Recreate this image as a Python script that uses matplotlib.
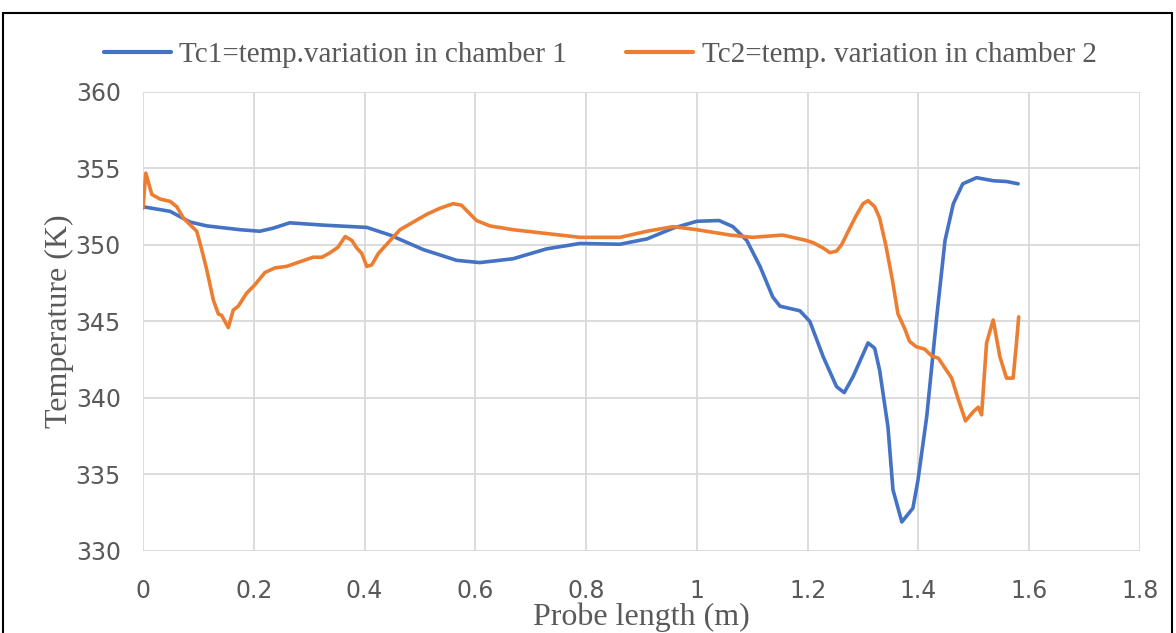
import matplotlib
matplotlib.use("Agg")
import matplotlib.pyplot as plt
from matplotlib.patches import Rectangle

# Tc1 (chamber 1)
x1 = [0.0, 0.049, 0.085, 0.115, 0.175, 0.211, 0.235, 0.265, 0.325, 0.404, 0.446, 0.506, 0.566,
      0.608, 0.668, 0.729, 0.789, 0.861, 0.91, 0.957, 1.0, 1.04, 1.065, 1.09, 1.114, 1.137,
      1.15, 1.186, 1.204, 1.228, 1.252, 1.266, 1.282, 1.309, 1.321, 1.33, 1.345, 1.354, 1.37,
      1.39, 1.399, 1.415, 1.433, 1.448, 1.463, 1.48, 1.505, 1.535, 1.559, 1.58]
t1 = [352.5, 352.2, 351.5, 351.25, 351.0, 350.9, 351.1, 351.45, 351.3, 351.15, 350.65, 349.7, 349.0,
      348.85, 349.1, 349.75, 350.1, 350.05, 350.4, 351.1, 351.55, 351.6, 351.2, 350.3, 348.6, 346.6,
      346.0, 345.7, 345.0, 342.7, 340.75, 340.35, 341.4, 343.6, 343.25, 341.8, 338.1, 334.0, 331.9,
      332.8, 334.6, 338.8, 345.3, 350.3, 352.7, 354.0, 354.4, 354.2, 354.15, 354.0]

# Tc2 (chamber 2)
x2 = [0.0, 0.005, 0.016, 0.031, 0.049, 0.061, 0.073, 0.097, 0.106, 0.115, 0.127, 0.136, 0.142,
      0.154, 0.163, 0.172, 0.187, 0.202, 0.22, 0.238, 0.259, 0.283, 0.307, 0.323, 0.338, 0.352,
      0.365, 0.377, 0.386, 0.395, 0.404, 0.413, 0.425, 0.464, 0.512, 0.536, 0.56, 0.575, 0.602,
      0.626, 0.668, 0.789, 0.861, 0.91, 0.957, 1.0, 1.06, 1.10, 1.155, 1.197, 1.21, 1.228, 1.24,
      1.252, 1.261, 1.276, 1.288, 1.3, 1.309, 1.321, 1.33, 1.341, 1.353, 1.363, 1.375, 1.384,
      1.396, 1.411, 1.424, 1.436, 1.46, 1.472, 1.485, 1.499, 1.508, 1.514, 1.523, 1.535, 1.547,
      1.559, 1.571, 1.577, 1.581]
t2 = [352.4, 354.7, 353.3, 353.0, 352.85, 352.5, 351.75, 350.9, 349.7, 348.4, 346.4, 345.5, 345.4,
      344.6, 345.75, 346.0, 346.85, 347.4, 348.2, 348.5, 348.6, 348.9, 349.2, 349.2, 349.5, 349.85,
      350.55, 350.3, 349.8, 349.45, 348.6, 348.7, 349.45, 351.0, 352.0, 352.4, 352.7, 352.6, 351.6,
      351.25, 351.0, 350.5, 350.5, 350.9, 351.2, 351.0, 350.65, 350.5, 350.65, 350.3, 350.15, 349.8, 349.5,
      349.6, 350.0, 351.1, 351.95, 352.7, 352.9, 352.5, 351.75, 350.0, 347.7, 345.5, 344.55, 343.7,
      343.35, 343.2, 342.75, 342.6, 341.3, 339.9, 338.5, 339.1, 339.4, 338.9, 343.6, 345.1, 342.7,
      341.3, 341.3, 343.6, 345.3]

label1 = "Tc1=temp.variation in chamber 1"
label2 = "Tc2=temp. variation in chamber 2"
xticks = [0, 0.2, 0.4, 0.6, 0.8, 1.0, 1.2, 1.4, 1.6, 1.8]
xticklabels = ["0", "0.2", "0.4", "0.6", "0.8", "1", "1.2", "1.4", "1.6", "1.8"]
yticks = [330, 335, 340, 345, 350, 355, 360]

W, H = 1176, 633
fig = plt.figure(figsize=(W / 100, H / 100), dpi=100)
ax = fig.add_axes([143 / W, 1 - 551 / H, (1140 - 143) / W, (551 - 92) / H])

ax.plot(x1, t1, color="#4472C4", lw=2.6, label=label1, solid_joinstyle="round", solid_capstyle="round")
ax.plot(x2, t2, color="#ED7D31", lw=2.6, label=label2, solid_joinstyle="round", solid_capstyle="round")

ax.set_xlim(0, 1.8)
ax.set_ylim(330, 360)
ax.set_xticks(xticks)
ax.set_xticklabels(xticklabels)
ax.set_yticks(yticks)
ax.grid(True, color="#D9D9D9", lw=1.3)
ax.set_axisbelow(True)
for s in ax.spines.values():
    s.set_visible(False)
ax.tick_params(axis="x", length=0, labelsize=17, colors="#595959", pad=20)
ax.tick_params(axis="y", length=0, labelsize=17, colors="#595959", pad=16)

ax.set_xlabel("Probe length (m)", family="Liberation Serif", fontsize=23, color="#595959", labelpad=0)
ax.set_ylabel("Temperature (K)", family="Liberation Serif", fontsize=23, color="#595959", labelpad=1)

leg = fig.legend(loc="center", bbox_to_anchor=(600 / W, 1 - 55 / H), ncol=2, frameon=False,
                 prop={"family": "Liberation Serif", "size": 21}, handlelength=2.3,
                 columnspacing=2.0, handletextpad=0.3)
for t in leg.get_texts():
    t.set_color("#595959")
for l in leg.get_lines():
    l.set_linewidth(3)

fig.patches.append(Rectangle((3 / W, -0.1), (1172 - 3) / W, 1 - 13 / H + 0.1,
                             transform=fig.transFigure, fill=False, ec="black", lw=1.5))

fig.savefig("out.png", dpi=100)
